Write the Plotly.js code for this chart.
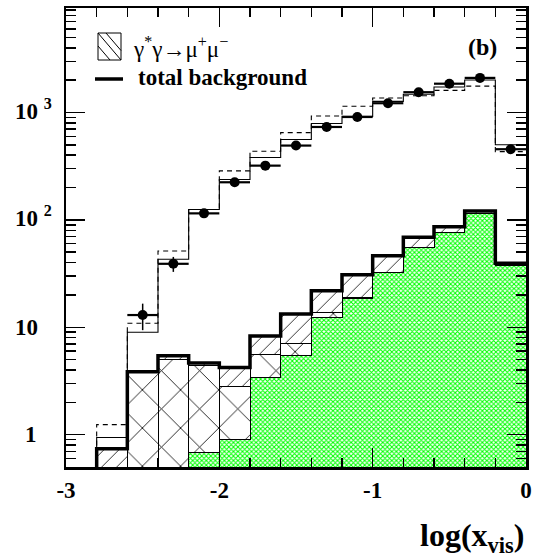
<!DOCTYPE html>
<html>
<head>
<meta charset="utf-8">
<script src="https://cdn.plot.ly/plotly-3.0.1.min.js"></script>
<style>
  html, body { margin: 0; padding: 0; background: #fff; }
  #chart { width: 537px; height: 558px; }
</style>
</head>
<body>
<div id="chart"></div>
<script>
// ---- bins in log(x_vis), width 0.2 ----
const binEdges = [-3.0, -2.8, -2.6, -2.4, -2.2, -2.0, -1.8, -1.6, -1.4, -1.2, -1.0, -0.8, -0.6, -0.4, -0.2, 0.0];

// ---- stacked backgrounds (bottom -> top) ----
const greenBkg = [0, 0, 0, 0, 0.685, 0.91, 3.44, 5.46, 12.4, 18.4, 32.2, 55.5, 75.9, 115, 37.5];
const crossBkg = [0, 0, 3.8, 5.05, 3.7, 1.9, 2.1, 1.64, 1.4, 0.5, 0.2, 0, 0, 0, 0];
const ggMuMu   = [0, 0.74, 0.05, 0.37, 0.255, 1.41, 2.76, 6.2, 8.1, 12.0, 14.0, 13.3, 10.4, 5.7, 1.9];

// ---- MC totals ----
const mcSolid  = [0, 0.94, 9.0, 43, 125, 238, 381, 560, 790, 920, 1270, 1480, 1730, 2010, 500];
const mcDashed = [0, 1.24, 10.9, 51.3, 125, 286, 436, 650, 929, 1142, 1364, 1430, 1608, 1760, 432];

// ---- data ----
const dataY   = [null, null, 13.0, 39, 115, 224, 320, 492, 733, 908, 1220, 1545, 1854, 2100, 455];
const dataErr = [null, null, 3.6, 6.2, 10.7, 15, 17.9, 22.2, 27, 30, 35, 39, 43, 46, 21.3];

// ---- ticks ----
const xTickVals = [-3, -2, -1, 0];
const xTickText = ['-3', '-2', '-1', '0'];
const yTickVals = [1, 10, 100, 1000];
const yTickText = ['1', '10', '10 <sup>2</sup>', '10 <sup>3</sup>'];

const SERIF = 'Liberation Serif, Times New Roman, serif';

const centers = binEdges.slice(0, -1).map((e, i) => (e + binEdges[i + 1]) / 2);
const totalBkg = greenBkg.map((g, i) => g + crossBkg[i] + ggMuMu[i]);

// step outline: empty bins pushed below the axis so the edge runs off the frame
function step(vals) {
  const y = vals.map(v => (v > 0 ? v : 1e-3));
  y.push(y[y.length - 1]);
  return { x: binEdges, y };
}

function bar(vals, pattern, lineW) {
  return {
    type: 'bar', x: centers, y: vals, width: 0.2,
    marker: { color: '#fff', pattern, line: { color: '#000', width: lineW } },
    hoverinfo: 'skip'
  };
}

const traces = [
  bar(greenBkg, { shape: 'x', fgcolor: '#00ff00', bgcolor: '#fff', size: 3.2, solidity: 0.55 }, 0),
  bar(crossBkg, { shape: 'x', fgcolor: '#000', bgcolor: '#fff', size: 27, solidity: 0.06 }, 1),
  bar(ggMuMu,   { shape: '/', fgcolor: '#000', bgcolor: '#fff', size: 10.6, solidity: 0.075 }, 1),
  { type: 'scatter', mode: 'lines', ...step(mcSolid),
    line: { shape: 'hv', color: '#000', width: 1.1 } },
  { type: 'scatter', mode: 'lines', ...step(mcDashed),
    line: { shape: 'hv', color: '#000', width: 1.1, dash: '5px,4px' } },
  { type: 'scatter', mode: 'lines', ...step(totalBkg),
    line: { shape: 'hv', color: '#000', width: 3.5 } },
  { type: 'scatter', mode: 'markers', x: centers, y: dataY,
    marker: { symbol: 'circle', size: 10, color: '#000' },
    error_y: { type: 'data', array: dataErr, thickness: 1.5, width: 0, color: '#000' },
    error_x: { type: 'constant', value: 0.1, thickness: 2.2, width: 0, color: '#000' } }
];

// paper helpers (plot area 66..526 x 8..467 px)
const L = 66, T = 8, W = 460, H = 459;
const px = v => (v - L) / W;
const py = v => (T + H - v) / H;

const annotations = [];
yTickVals.forEach((v, i) => {
  const isOne = yTickText[i] === '1';
  annotations.push({
    xref: 'paper', yref: 'y', x: isOne ? px(39) : px(13), y: Math.log10(v),
    xanchor: isOne ? 'right' : 'left', yanchor: 'middle',
    yshift: yTickText[i].includes('sup') ? 3 : 0,
    text: '<b>' + yTickText[i] + '</b>', showarrow: false,
    font: { family: SERIF, size: 23, color: '#000' }
  });
});
annotations.push(
  { xref: 'paper', yref: 'paper', x: 1, y: py(537), xanchor: 'right', yanchor: 'middle',
    text: '<b>log(x<sub>vis</sub>)</b>', showarrow: false,
    font: { family: SERIF, size: 32, color: '#000' } },
  { xref: 'paper', yref: 'paper', x: px(499), y: py(47.5), xanchor: 'right', yanchor: 'middle',
    text: '<b>(b)</b>', showarrow: false,
    font: { family: SERIF, size: 24, color: '#000' } },
  { xref: 'paper', yref: 'paper', x: px(131), y: py(48), xanchor: 'left', yanchor: 'middle',
    text: 'γ<sup>*</sup>γ→μ<sup>+</sup>μ<sup>−</sup>', showarrow: false,
    font: { family: SERIF, size: 23, color: '#000' } },
  { xref: 'paper', yref: 'paper', x: px(136), y: py(77), xanchor: 'left', yanchor: 'middle',
    text: '<b>total background</b>', showarrow: false,
    font: { family: SERIF, size: 23, color: '#000' } }
);

// legend swatches
const seg = (x0, y0, x1, y1, w) => ({
  type: 'line', xref: 'paper', yref: 'paper',
  x0: px(x0), y0: py(y0), x1: px(x1), y1: py(y1), line: { color: '#000', width: w }
});
const shapes = [
  { type: 'rect', xref: 'paper', yref: 'paper', x0: px(98), y0: py(60), x1: px(121), y1: py(33),
    line: { color: '#000', width: 1 } },
  seg(98, 33, 121, 60, 1),
  seg(106, 33, 121, 50.5, 1),
  seg(98, 46, 110, 60, 1),
  seg(95, 79, 123, 79, 3.5)
];

const axisCommon = {
  showline: true, linecolor: '#000', linewidth: 2.5, mirror: 'ticks',
  ticks: 'inside', tickcolor: '#000', tickwidth: 1.5, ticklen: 19,
  showgrid: false, zeroline: false
};

const layout = {
  width: 537, height: 558,
  margin: { l: L, r: 537 - L - W, t: T, b: 558 - T - H },
  paper_bgcolor: '#fff', plot_bgcolor: '#fff',
  font: { family: SERIF, color: '#000' },
  showlegend: false, barmode: 'stack', bargap: 0,
  xaxis: {
    ...axisCommon, range: [-3, 0],
    tickmode: 'array', tickvals: xTickVals, ticktext: xTickText.map(t => '<b>' + t + '</b>'),
    tickfont: { family: SERIF, size: 23, color: '#000' },
    ticklabelstandoff: 1,
    minor: { ticks: 'inside', tickmode: 'linear', tick0: -3, dtick: 0.2, ticklen: 9, tickwidth: 1.5, tickcolor: '#000' }
  },
  yaxis: {
    ...axisCommon, type: 'log', range: [Math.log10(0.5), 3.973],
    tickmode: 'linear', tick0: 0, dtick: 1, showticklabels: false,
    minor: { ticks: 'inside', dtick: 'D1', ticklen: 10, tickwidth: 1.5, tickcolor: '#000' }
  },
  annotations, shapes
};

Plotly.newPlot('chart', traces, layout, { displayModeBar: false, staticPlot: true });
</script>
</body>
</html>
